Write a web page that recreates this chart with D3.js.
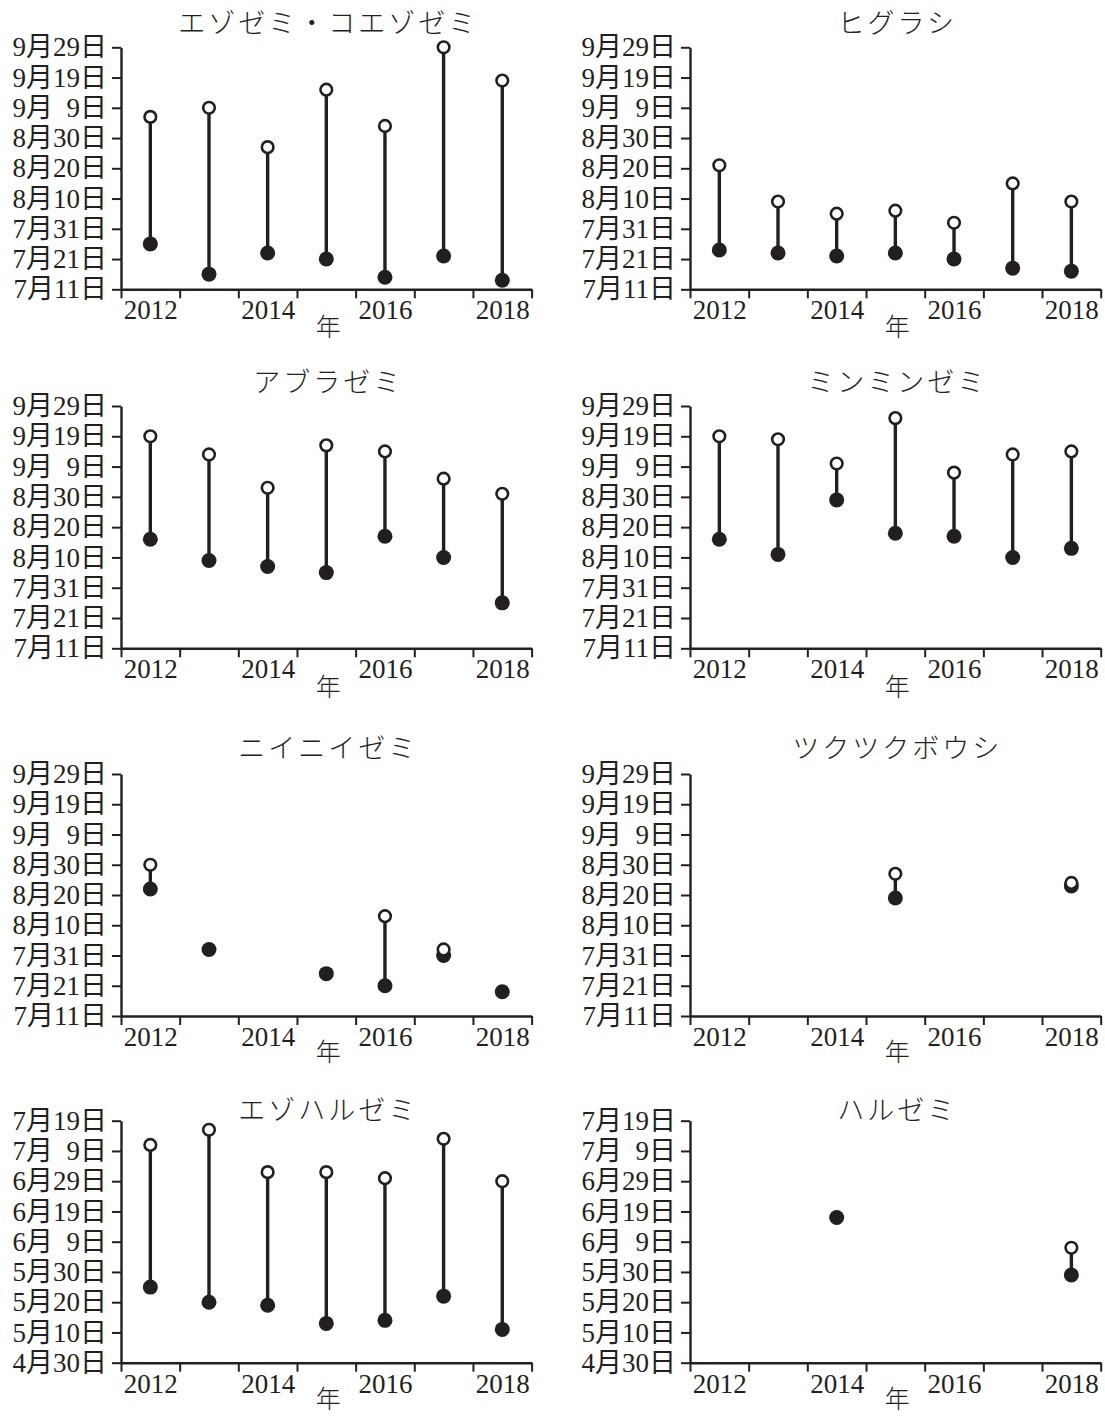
<!DOCTYPE html>
<html>
<head>
<meta charset="utf-8">
<script src="https://cdn.jsdelivr.net/npm/d3@7"></script>
<style>
  html, body { margin: 0; padding: 0; background: #fff; }
  svg { display: block; }
  .tick text { white-space: pre; }
</style>
</head>
<body>
<svg id="chart" width="1105" height="1416"></svg>
<script>
// ---------------- data ----------------
const years = [2012, 2013, 2014, 2015, 2016, 2017, 2018];
const yearLabelYears = [2012, 2014, 2016, 2018];
const xAxisTitle = "年";

const summerTickDates = ["7/11", "7/21", "7/31", "8/10", "8/20", "8/30", "9/9", "9/19", "9/29"];
const summerTickLabels = ["7月11日", "7月21日", "7月31日", "8月10日", "8月20日", "8月30日", "9月  9日", "9月19日", "9月29日"];
const springTickDates = ["4/30", "5/10", "5/20", "5/30", "6/9", "6/19", "6/29", "7/9", "7/19"];
const springTickLabels = ["4月30日", "5月10日", "5月20日", "5月30日", "6月  9日", "6月19日", "6月29日", "7月  9日", "7月19日"];

const titles = ["エゾゼミ・コエゾゼミ", "ヒグラシ", "アブラゼミ", "ミンミンゼミ", "ニイニイゼミ", "ツクツクボウシ", "エゾハルゼミ", "ハルゼミ"];

// first (filled) and last (open) dates, per year 2012..2018
const ezoFirst      = ["7/26", "7/16", "7/23", "7/21", "7/15", "7/22", "7/14"];
const ezoLast       = ["9/6", "9/9", "8/27", "9/15", "9/3", "9/29", "9/18"];
const higurashiFirst = ["7/24", "7/23", "7/22", "7/23", "7/21", "7/18", "7/17"];
const higurashiLast  = ["8/21", "8/9", "8/5", "8/6", "8/2", "8/15", "8/9"];
const aburaFirst    = ["8/16", "8/9", "8/7", "8/5", "8/17", "8/10", "7/26"];
const aburaLast     = ["9/19", "9/13", "9/2", "9/16", "9/14", "9/5", "8/31"];
const minminFirst   = ["8/16", "8/11", "8/29", "8/18", "8/17", "8/10", "8/13"];
const minminLast    = ["9/19", "9/18", "9/10", "9/25", "9/7", "9/13", "9/14"];
const niiniiFirst   = ["8/22", "8/2", null, "7/25", "7/21", "7/31", "7/19"];
const niiniiLast    = ["8/30", null, null, null, "8/13", "8/2", null];
const tsukuFirst    = [null, null, null, "8/19", null, null, "8/23"];
const tsukuLast     = [null, null, null, "8/27", null, null, "8/24"];
const ezoharuFirst  = ["5/25", "5/20", "5/19", "5/13", "5/14", "5/22", "5/11"];
const ezoharuLast   = ["7/11", "7/16", "7/2", "7/2", "6/30", "7/13", "6/29"];
const haruFirst     = [null, null, "6/17", null, null, null, "5/29"];
const haruLast      = [null, null, null, null, null, null, "6/7"];

// ---------------- build ----------------
const parseMD = s => { const [m, d] = s.split("/").map(Number); return new Date(2001, m - 1, d); };

const summer = { dates: summerTickDates, labels: summerTickLabels };
const spring = { dates: springTickDates, labels: springTickLabels };

const panels = [
  { title: titles[0], first: ezoFirst, last: ezoLast, ticks: summer },
  { title: titles[1], first: higurashiFirst, last: higurashiLast, ticks: summer },
  { title: titles[2], first: aburaFirst, last: aburaLast, ticks: summer },
  { title: titles[3], first: minminFirst, last: minminLast, ticks: summer },
  { title: titles[4], first: niiniiFirst, last: niiniiLast, ticks: summer },
  { title: titles[5], first: tsukuFirst, last: tsukuLast, ticks: summer },
  { title: titles[6], first: ezoharuFirst, last: ezoharuLast, ticks: spring },
  { title: titles[7], first: haruFirst, last: haruLast, ticks: spring }
];

const rows = [
  { top: 47.3, bottom: 289.3, titleY: 33, yearY: 325 },
  { top: 406, bottom: 648.3, titleY: 392, yearY: 685 },
  { top: 774, bottom: 1016, titleY: 758, yearY: 1050 },
  { top: 1120.7, bottom: 1362.7, titleY: 1120, yearY: 1397 }
];
const cols = [ { x0: 121, x1: 531.6 }, { x0: 690, x1: 1100.7 } ];

const INK = "#231f20";
const NUM_FONT = "'Liberation Serif', 'Times New Roman', 'Noto Sans CJK JP', serif";
const JP_FONT = "'Noto Sans CJK JP', sans-serif";

const svg = d3.select("#chart");
svg.append("rect").attr("width", 1105).attr("height", 1416).attr("fill", "#fff");

panels.forEach((p, i) => {
  const row = rows[Math.floor(i / 2)];
  const col = cols[i % 2];
  const g = svg.append("g");

  const x = d3.scaleLinear().domain([years[0], years[years.length - 1] + 1]).range([col.x0, col.x1]);
  const tickDates = p.ticks.dates.map(parseMD);
  const y = d3.scaleTime().domain([tickDates[0], tickDates[tickDates.length - 1]]).range([row.bottom, row.top]);

  // y axis
  const yAxis = d3.axisLeft(y)
    .tickValues(tickDates)
    .tickFormat((d, k) => p.ticks.labels[k])
    .tickSize(9).tickSizeOuter(0).tickPadding(5);
  const gy = g.append("g").attr("transform", `translate(${col.x0},0)`).call(yAxis);

  // x axis: boundary ticks
  const xAxis = d3.axisBottom(x)
    .tickValues(d3.range(years[0], years[years.length - 1] + 2))
    .tickFormat("")
    .tickSize(9).tickSizeOuter(0);
  const gx = g.append("g").attr("transform", `translate(0,${row.bottom})`).call(xAxis);

  // x axis: year labels at band centres
  const xLab = d3.axisBottom(x)
    .tickValues(yearLabelYears.map(v => v + 0.5))
    .tickFormat(d => String(Math.floor(d)))
    .tickSize(0).tickPadding(11);
  const gxl = g.append("g").attr("transform", `translate(0,${row.bottom})`).call(xLab);
  gxl.select(".domain").remove();

  [gy, gx, gxl].forEach(a => {
    a.selectAll(".domain").attr("stroke", INK).attr("stroke-width", 2.4);
    a.selectAll(".tick line").attr("stroke", INK).attr("stroke-width", 2);
    a.selectAll(".tick text").attr("fill", INK).style("font-family", NUM_FONT).style("font-size", "27px");
  });

  // title
  g.append("text")
    .attr("x", (col.x0 + col.x1) / 2 + 2)
    .attr("y", row.titleY)
    .attr("text-anchor", "middle")
    .style("font-family", JP_FONT).style("font-size", "27px").style("font-weight", 300)
    .style("letter-spacing", "3px")
    .attr("fill", INK)
    .text(p.title);

  // x axis title
  g.append("text")
    .attr("x", (col.x0 + col.x1) / 2 + 2)
    .attr("y", row.yearY)
    .attr("text-anchor", "middle")
    .attr("dominant-baseline", "central")
    .style("font-family", JP_FONT).style("font-size", "25px").style("font-weight", 300)
    .attr("fill", INK)
    .text(xAxisTitle);

  // data
  const data = years.map((yr, k) => ({
    year: yr,
    first: p.first[k] ? parseMD(p.first[k]) : null,
    last: p.last[k] ? parseMD(p.last[k]) : null
  }));
  const cx = d => x(d.year + 0.5);

  g.selectAll("line.stem").data(data.filter(d => d.first && d.last)).join("line")
    .attr("class", "stem")
    .attr("x1", cx).attr("x2", cx)
    .attr("y1", d => y(d.first)).attr("y2", d => y(d.last))
    .attr("stroke", INK).attr("stroke-width", 3.4);

  g.selectAll("circle.first").data(data.filter(d => d.first)).join("circle")
    .attr("class", "first")
    .attr("cx", cx).attr("cy", d => y(d.first)).attr("r", 7.5)
    .attr("fill", INK);

  g.selectAll("circle.last").data(data.filter(d => d.last)).join("circle")
    .attr("class", "last")
    .attr("cx", cx).attr("cy", d => y(d.last)).attr("r", 5.8)
    .attr("fill", "#fff").attr("stroke", INK).attr("stroke-width", 2.6);
});
</script>
</body>
</html>
